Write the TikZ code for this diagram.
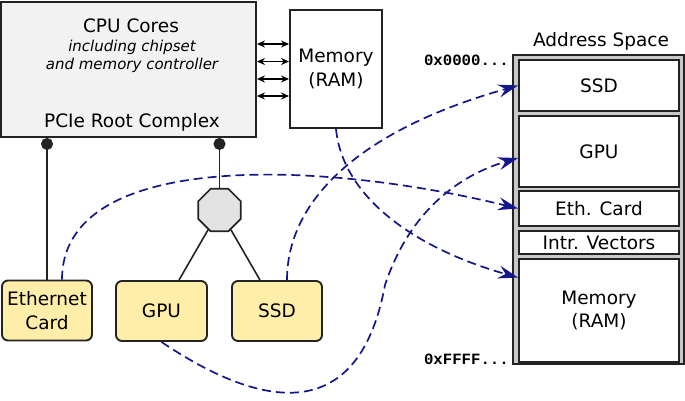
\documentclass[tikz,border=0pt]{standalone}
\usepackage{fontspec}
\setmainfont{DejaVu Sans}
\newfontfamily\monofnt{Liberation Mono}
\usetikzlibrary{shapes.geometric,arrows.meta,calc}
\definecolor{cardyellow}{RGB}{255,238,170}
\definecolor{cpugray}{RGB}{242,242,242}
\definecolor{octgray}{RGB}{227,227,227}
\definecolor{addrgray}{RGB}{200,200,200}
\definecolor{mapblue}{RGB}{22,22,140}
\definecolor{edge}{RGB}{35,35,35}
\begin{document}
\begin{tikzpicture}[x=1pt,y=-1pt,
 txt/.style={font=\fontsize{18.5}{23.5}\selectfont, inner sep=0pt},
 itx/.style={font=\fontsize{15}{18}\selectfont\itshape, inner sep=0pt},
 box/.style={draw=edge, line width=1.9pt, rectangle, inner sep=0pt, align=center, font=\fontsize{18.5}{23.5}\selectfont},
 card/.style={box, rounded corners=6pt, fill=cardyellow, minimum width=90pt, minimum height=60pt},
 abox/.style={box, fill=white, minimum width=160pt},
 dbl/.style={{Stealth[length=8pt,width=7pt]}-{Stealth[length=8pt,width=7pt]}, line width=1.4pt},
 bus/.style={{Circle[length=12pt]}-, line width=1.6pt, draw=edge},
 link/.style={line width=1.6pt, draw=edge},
 map/.style={draw=mapblue, line width=1.7pt, dash pattern=on 9pt off 5pt, -{Stealth[length=20pt,width=13pt,inset=7pt]}},
 lbl/.style={font=\monofnt\bfseries\fontsize{15.7}{18}\selectfont, inner sep=0pt, anchor=base east}
]
\useasboundingbox (0,0) rectangle (685,400);

% CPU box
\node[box, fill=cpugray, minimum width=255pt, minimum height=135pt] (cpu) at (128.5,69.5) {};
\node[txt, anchor=base] (t1) at (131,32) {CPU Cores};
\node[itx, anchor=base] (t2) at (132,51.5) {including chipset};
\node[itx, anchor=base] (t3) at (132,69) {and memory controller};
\node[txt, anchor=base] (t4) at (132,127.5) {PCIe Root Complex};

% Memory
\node[box, fill=white, minimum width=92pt, minimum height=118pt] (mem) at (336,69) {Memory\\(RAM)};

% memory bus arrows
\draw[dbl] (cpu.east |- 0,44) -- (mem.west |- 0,44);
\draw[dbl] (cpu.east |- 0,61.5) -- (mem.west |- 0,61.5);
\draw[dbl] (cpu.east |- 0,79) -- (mem.west |- 0,79);
\draw[dbl] (cpu.east |- 0,96) -- (mem.west |- 0,96);

% devices
\node[card] (eth) at (47,310.5) {Ethernet\\Card};
\node[card, minimum width=91pt] (gpu) at (161.5,311) {GPU};
\node[card] (ssd) at (277,311) {SSD};
\node[regular polygon, regular polygon sides=8, minimum size=46pt, draw=edge, line width=1.7pt, fill=octgray, inner sep=0pt] (oct) at (219.5,210) {};

% PCIe links
\draw[bus] (cpu.south -| eth.north) -- (eth.north);
\draw[bus] (cpu.south -| oct.north) -- (oct.north);
\draw[link] (oct) -- ([xshift=17.5pt]gpu.north);
\draw[link] (oct) -- ([xshift=-17pt]ssd.north);

% Address space
\node[box, fill=addrgray, minimum width=171pt, minimum height=309pt] (addr) at (598.5,209.5) {};
\node[txt, anchor=base] (as) at (601,46.5) {Address Space};
\node[abox, minimum height=51pt] (aSSD) at (599,85.5) {SSD};
\node[abox, minimum height=71pt] (aGPU) at (599,151.5) {GPU};
\node[abox, minimum height=35pt] (aEth) at (599,208.5) {Eth. Card};
\node[abox, minimum height=23pt] (aInt) at (599,242.5) {Intr. Vectors};
\node[abox, minimum height=103pt] (aMem) at (599,310.5) {Memory\\(RAM)};
\node[lbl] (lo) at (509,65.5) {0x0000...};
\node[lbl] (hi) at (509,364) {0xFFFF...};

% mappings
\draw[map] ([xshift=15pt]eth.north) .. controls (62,150) and (320,160) .. (aEth.west);
\draw[map] ([xshift=10pt]ssd.north) .. controls (287,200) and (360,130) .. (aSSD.west);
\draw[map] (gpu.south) .. controls (270,415) and (360,420) .. (385,285) .. controls (410,210) and (460,175) .. ([yshift=-6.5pt]aGPU.west);
\draw[map] (mem.south) .. controls (343,200) and (420,250) .. ([yshift=33pt]aMem.west);
\end{tikzpicture}
\end{document}
